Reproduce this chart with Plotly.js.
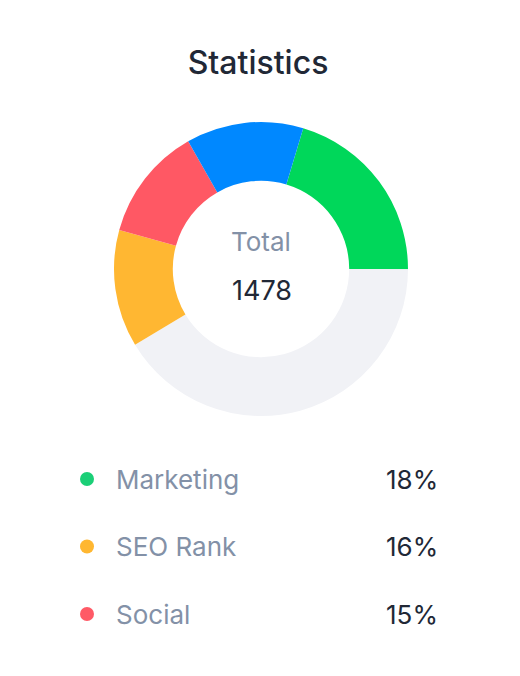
<!DOCTYPE html>
<html>
<head>
<meta charset="utf-8">
<script src="https://cdn.plot.ly/plotly-3.0.1.min.js"></script>
<style>
html,body{margin:0;padding:0;background:#fff;}
#chart{width:520px;height:676px;}
</style>
</head>
<body>
<div id="chart"></div>
<script>
// Donut slices (clockwise from the start angle)
const sliceLabels = ["Marketing", "Remaining", "SEO Rank", "Social", "Other"];
const sliceValues = [20.4, 41.4, 12.9, 12.5, 12.9];
const sliceColors = ["#00D75A", "#F1F2F6", "#FFB732", "#FF5864", "#0088FF"];

// Center texts
const centerLabel = "Total";
const centerValue = "1478";

// Legend rows
const legendLabels = ["Marketing", "SEO Rank", "Social"];
const legendPercents = ["18%", "16%", "15%"];
const legendColors = ["#1BCF77", "#FFB731", "#FF5A66"];

const titleText = "Statistics";

const FONT = "Inter, 'Open Sans', sans-serif";
const GRAY = "#8391A7";
const DARK = "#212836";

const pie = {
  type: "pie",
  labels: sliceLabels,
  values: sliceValues,
  marker: {colors: sliceColors, line: {width: 0}},
  hole: 0.6,
  sort: false,
  direction: "clockwise",
  rotation: 16.7,
  textinfo: "none",
  hoverinfo: "label+value",
  showlegend: false,
  domain: {x: [(261 - 147) / 520, (261 + 147) / 520], y: [1 - 416 / 676, 1 - 122 / 676]}
};

const dots = {
  type: "scatter",
  mode: "markers",
  x: legendLabels.map(() => 0),
  y: legendLabels.map((_, i) => i),
  marker: {color: legendColors, size: 14},
  hoverinfo: "skip",
  showlegend: false,
  cliponaxis: false
};

const annotations = [
  {xref: "paper", yref: "paper", x: 261 / 520, y: 1 - 242 / 676, text: centerLabel,
   showarrow: false, xanchor: "center", yanchor: "middle",
   font: {family: FONT, size: 26, color: GRAY}},
  {xref: "paper", yref: "paper", x: 262 / 520, y: 1 - 290 / 676, text: centerValue,
   showarrow: false, xanchor: "center", yanchor: "middle",
   font: {family: FONT, size: 27, color: DARK}}
];
legendLabels.forEach((lab, i) => {
  annotations.push({xref: "x", yref: "y", x: 27, y: i, text: lab, showarrow: false,
    xanchor: "left", yanchor: "middle", font: {family: FONT, size: 26, color: GRAY}});
  annotations.push({xref: "x", yref: "y", x: 353, y: i, text: legendPercents[i], showarrow: false,
    xanchor: "right", yanchor: "middle", font: {family: FONT, size: 26, color: DARK}});
});

const layout = {
  width: 520, height: 676,
  margin: {l: 0, r: 0, t: 0, b: 0},
  paper_bgcolor: "#ffffff", plot_bgcolor: "rgba(0,0,0,0)",
  title: {text: titleText, x: 258 / 520, xanchor: "center", y: 1 - 63 / 676, yanchor: "middle",
          font: {family: FONT, size: 32, color: DARK, weight: 500}},
  xaxis: {range: [-87, 433], visible: false, fixedrange: true},
  yaxis: {range: [(676 - 479) / 67.5, -479 / 67.5], visible: false, fixedrange: true},
  annotations: annotations,
  showlegend: false
};

Plotly.newPlot("chart", [pie, dots], layout, {displayModeBar: false, staticPlot: true});
</script>
</body>
</html>
